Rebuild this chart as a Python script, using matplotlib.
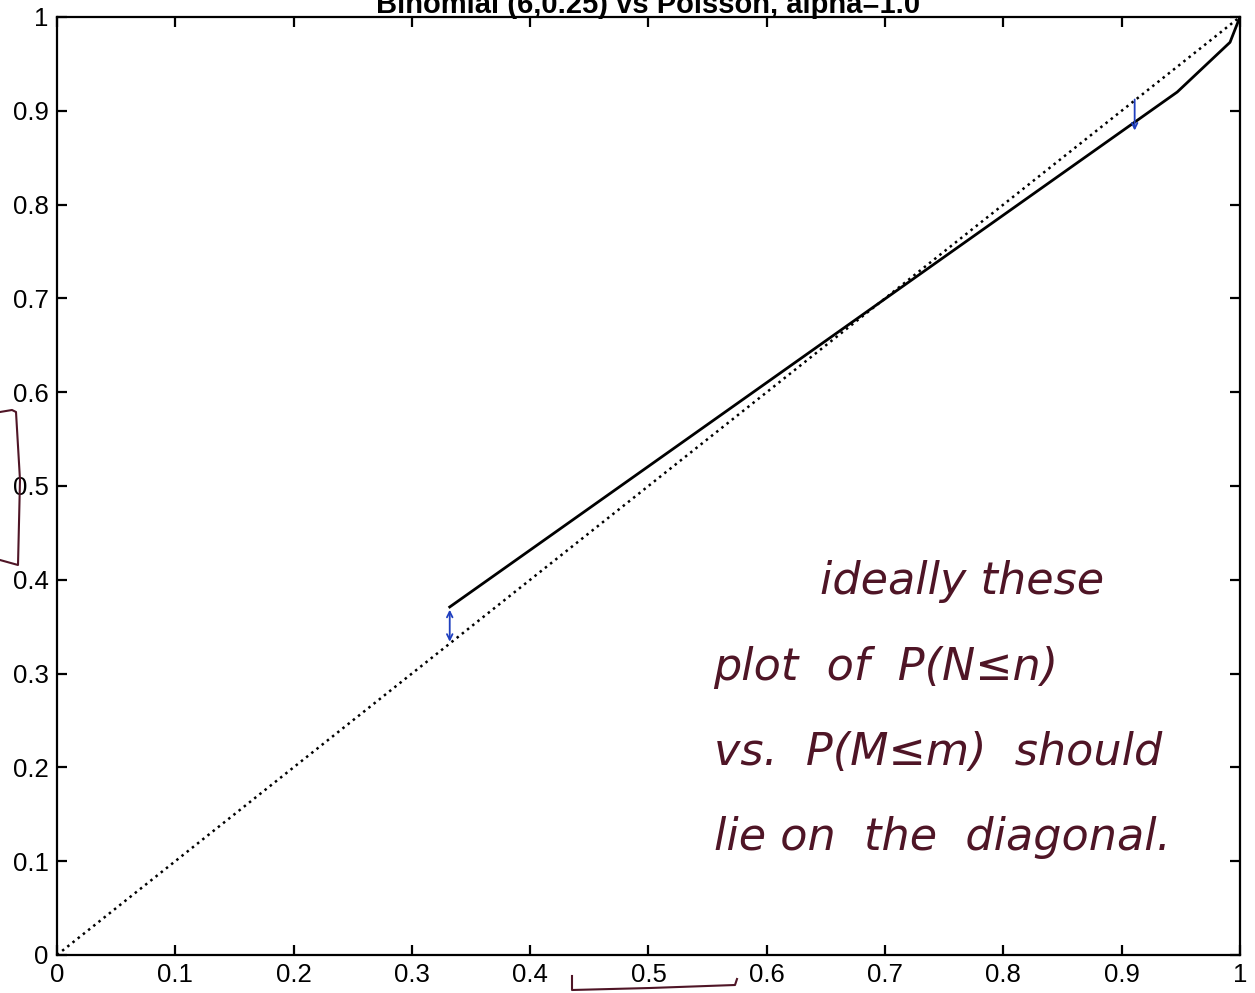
import matplotlib
matplotlib.use("Agg")
import matplotlib.pyplot as plt
import matplotlib.transforms as mtransforms
from matplotlib.lines import Line2D

plt.rcParams['font.family'] = ['Liberation Sans', 'DejaVu Sans']

# Data
poisson_cdf = [0.332, 0.947, 0.9916, 1.0]
binom_cdf = [0.371, 0.920, 0.973, 1.0]
diag = [0.0, 1.0]
ticks = [0, 0.1, 0.2, 0.3, 0.4, 0.5, 0.6, 0.7, 0.8, 0.9, 1]
tick_labels = ['0', '0.1', '0.2', '0.3', '0.4', '0.5', '0.6', '0.7', '0.8', '0.9', '1']
title = "Binomial (6,0.25) vs Poisson, alpha=1.0"
note_lines = ["ideally these", "plot  of  P(N\u2264n)", "vs.  P(M\u2264m)  should", "lie on  the  diagonal."]

fig = plt.figure(figsize=(12.55, 9.93), dpi=100)
ax = fig.add_axes([0.0454, 0.0383, 0.9426, 0.9446])

ax.plot(diag, diag, linestyle=':', color='black', linewidth=1.8)
ax.plot(poisson_cdf, binom_cdf, color='black', linewidth=2.0, solid_joinstyle='round')

ax.set_xlim(0, 1)
ax.set_ylim(0, 1)
ax.set_xticks(ticks)
ax.set_yticks(ticks)
ax.set_xticklabels(tick_labels)
ax.set_yticklabels(tick_labels)
ax.tick_params(direction='in', length=7.5, width=1.6, top=True, right=True,
               labelsize=18.5)
ax.tick_params(axis='x', pad=6)
ax.tick_params(axis='y', pad=6)
for s in ax.spines.values():
    s.set_linewidth(1.6)

# Title (partially cut off at the top edge, as in the reference)
tr = mtransforms.blended_transform_factory(ax.transAxes, fig.transFigure)
ax.text(0.5, 1 - 13 / 993.0, title, transform=tr,
        ha='center', va='baseline', fontsize=21, fontweight='bold', clip_on=False)

# Handwritten note
note_color = '#4f1526'
ax.text(0.645, 0.385, note_lines[0], color=note_color, fontsize=32,
        fontstyle='italic', family=['DejaVu Sans'], va='baseline')
for yy, line in zip([0.293, 0.203, 0.112], note_lines[1:]):
    ax.text(0.555, yy, line, color=note_color, fontsize=32,
            fontstyle='italic', family=['DejaVu Sans'], va='baseline')

# Blue arrow marks
blue = '#1f3fbf'
ax.annotate('', xy=(0.332, 0.331), xytext=(0.332, 0.371),
            arrowprops=dict(arrowstyle='<->', color=blue, lw=1.3))
ax.annotate('', xy=(0.911, 0.876), xytext=(0.911, 0.915),
            arrowprops=dict(arrowstyle='->', color=blue, lw=1.3))

# Handwritten brackets (figure coordinates)
W, H = 1255.0, 993.0
def fl(xs, ys):
    fig.add_artist(Line2D([x / W for x in xs], [1 - y / H for y in ys],
                          color=note_color, lw=1.5, transform=fig.transFigure))
fl([0, 12, 16, 20, 18, 0], [412, 410, 412, 480, 565, 560])
fl([572, 572, 650, 735, 737], [976, 990, 988, 985, 979])

fig.savefig('out.png', dpi=100)
